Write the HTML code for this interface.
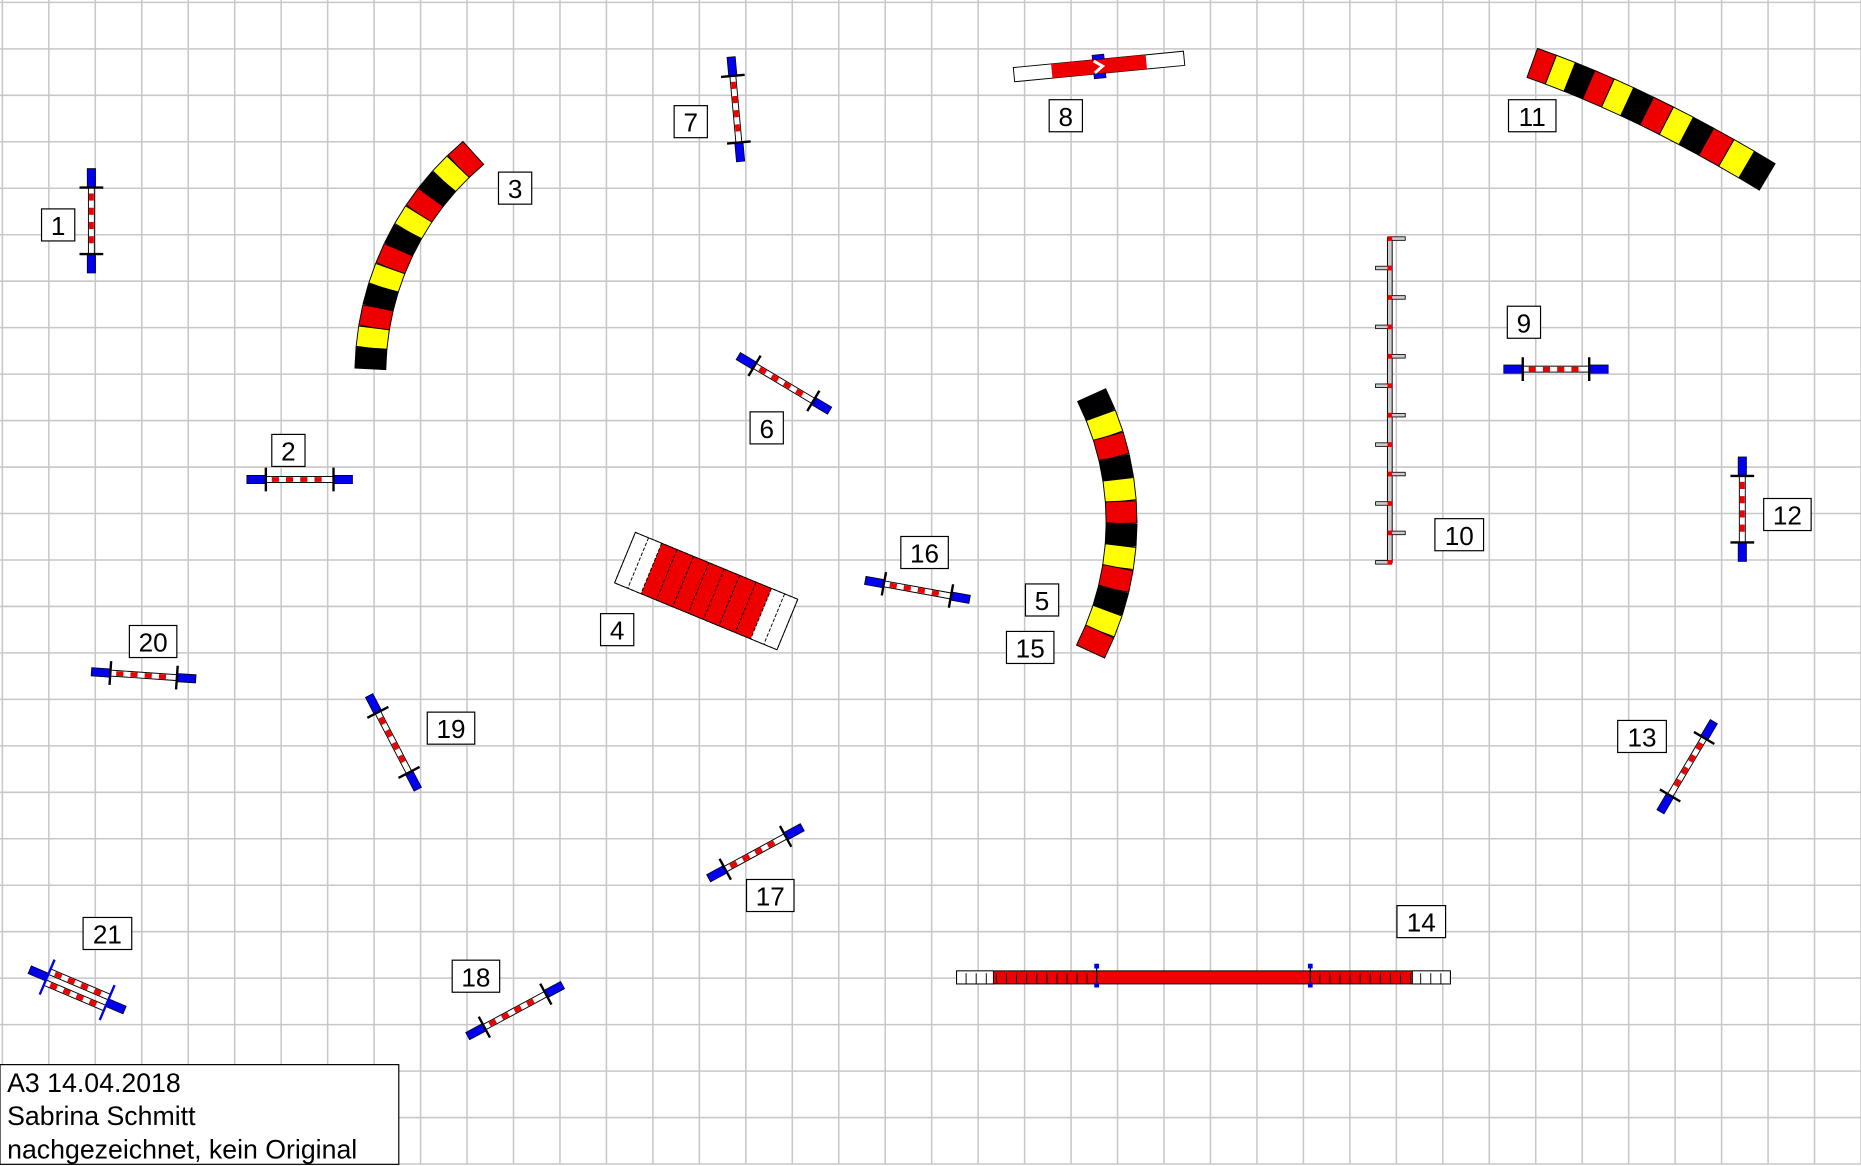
<!DOCTYPE html>
<html><head><meta charset="utf-8"><style>
html,body{margin:0;padding:0;background:#fff}
svg{display:block}
text{font-family:"Liberation Sans",Arial,sans-serif}
</style></head><body>
<svg id="s" xmlns="http://www.w3.org/2000/svg" width="1861" height="1166" viewBox="0 0 1568 982.4">
<rect x="0" y="0" width="1568" height="982.4" fill="#fff"/>
<g id="grid" stroke="#c8c8c8" stroke-width="1.3"></g>
<g id="obj"></g>
<g id="labels" font-size="22" text-anchor="middle">
</g>
<rect x="0" y="897" width="336" height="84" fill="#fff" stroke="#000" stroke-width="1"/>
<text x="6" y="920" font-size="22.5">A3 14.04.2018</text>
<text x="6" y="948" font-size="22.5">Sabrina Schmitt</text>
<text x="6" y="976" font-size="22.5">nachgezeichnet, kein Original</text>
</svg>
<script>
const NS="http://www.w3.org/2000/svg";
function el(p,t,a){const e=document.createElementNS(NS,t);for(const k in a)e.setAttribute(k,a[k]);p.appendChild(e);return e;}
const g=document.getElementById('grid'),o=document.getElementById('obj'),L=document.getElementById('labels');
for(let i=0;i<=40;i++){const x=2+i*39.15;el(g,'line',{x1:x,y1:0,x2:x,y2:981});}
for(let j=0;j<=25;j++){const y=2+j*39.15;el(g,'line',{x1:0,y1:y,x2:1568,y2:y});}
function jump(x1,y1,x2,y2,dbl){
  const dx=x2-x1,dy=y2-y1,len=Math.hypot(dx,dy),a=Math.atan2(dy,dx)*180/Math.PI;
  const gg=el(o,'g',{transform:`translate(${(x1+x2)/2},${(y1+y2)/2}) rotate(${a})`});
  const h=len/2,e=16;
  const bars=dbl?[-5,5]:[0];
  bars.forEach(off=>{
    el(gg,'rect',{x:-h+e,y:off-2.5,width:len-2*e,height:5,fill:'#fff',stroke:'#000','stroke-width':0.8});
    for(let t=-h+e+5;t<h-e-6;t+=12)el(gg,'rect',{x:t,y:off-2,width:6,height:4,fill:'#e00'});
  });
  el(gg,'rect',{x:-h,y:-3.5,width:e,height:7,fill:'#0000ee',stroke:'#000','stroke-width':0.6});
  el(gg,'rect',{x:h-e,y:-3.5,width:e,height:7,fill:'#0000ee',stroke:'#000','stroke-width':0.6});
  const cl=dbl?16:10;
  [-h+e,h-e].forEach(t=>el(gg,'line',{x1:t,y1:-cl,x2:t,y2:cl,stroke:dbl?'#0000ee':'#000','stroke-width':2}));
}
jump(77,142,77,230);
jump(208,404,297,404);
jump(622,300,699,346);
jump(616,48,624,136);
jump(1267,311,1355,311);
jump(1468,385,1468,473);
jump(1444,608,1399,684);
jump(729,489,817,505);
jump(597,740,676,697);
jump(394,873,474,830);
jump(311,586,352,665);
jump(77,566,165,572);
jump(25,817,105,851,true);
// tunnels
const C={r:'#ee0000',y:'#ffff00',b:'#000'};
function tunnelPts(pts,cols,w){
  for(let i=0;i<cols.length;i++){
    const p=pts[i],q=pts[i+1];const dx=q[0]-p[0],dy=q[1]-p[1],l=Math.hypot(dx,dy);
    const nx=-dy/l*w/2,ny=dx/l*w/2;
    el(o,'polygon',{points:`${p[0]+nx},${p[1]+ny} ${q[0]+nx},${q[1]+ny} ${q[0]-nx},${q[1]-ny} ${p[0]-nx},${p[1]-ny}`,fill:C[cols[i]],stroke:'#000','stroke-width':0.8});
  }
}
function arcPts(cx,cy,r,a0,a1,n){const p=[];for(let i=0;i<=n;i++){const a=(a0+(a1-a0)*i/n)*Math.PI/180;p.push([cx+r*Math.cos(a),cy+r*Math.sin(a)]);}return p;}
tunnelPts(arcPts(555,315,243,230,181,12),'ryb'.repeat(4).split(''),26);
tunnelPts(arcPts(705,440,240,-26.5,27,12),'byr'.repeat(4).split(''),26);
(function(){const p=[];const A=[1291,53],B=[1385,86],D=[1489,149];for(let i=0;i<=12;i++){const t=i/12;p.push([(1-t)*(1-t)*A[0]+2*t*(1-t)*B[0]+t*t*D[0],(1-t)*(1-t)*A[1]+2*t*(1-t)*B[1]+t*t*D[1]]);}tunnelPts(p,'ryb'.repeat(4).split(''),26);})();
// table/A-frame 4
(function(){const gg=el(o,'g',{transform:'translate(595,498) rotate(22.4)'});
 el(gg,'rect',{x:-74,y:-23,width:148,height:46,fill:'#fff',stroke:'#000','stroke-width':0.8,'stroke-dasharray':'3 1.5'});
 el(gg,'rect',{x:-50,y:-23,width:100,height:46,fill:'#ee0000'});
 for(let i=0;i<=8;i++){const x=-62+i*15.5;if(i==0||i==8)continue;}
 [-62,-50,-36,-21,-7,7,21,36,50,62].forEach(x=>el(gg,'line',{x1:x,y1:-23,x2:x,y2:23,stroke:'#000','stroke-width':0.8,'stroke-dasharray':'3 1.5'}));
 el(gg,'rect',{x:-74,y:-23,width:148,height:46,fill:'none',stroke:'#000','stroke-width':0.8});
})();
// long jump 8
(function(){const gg=el(o,'g',{transform:'translate(926,56) rotate(-5.5)'});
 el(gg,'rect',{x:-72,y:-6,width:144,height:12,fill:'#fff',stroke:'#000','stroke-width':0.8});
 el(gg,'rect',{x:-40,y:-6,width:80,height:12,fill:'#ee0000'});
 el(gg,'rect',{x:-5,y:-10,width:10,height:4,fill:'#0000ee',stroke:'#000','stroke-width':0.5});
 el(gg,'rect',{x:-5,y:6,width:10,height:4,fill:'#0000ee',stroke:'#000','stroke-width':0.5});
 el(gg,'polyline',{points:'-4,-5 3,0 -4,5',fill:'none',stroke:'#fff','stroke-width':2.5});
})();
// weave 10
(function(){el(o,'rect',{x:1169,y:200,width:4,height:274,fill:'#ccc',stroke:'#000','stroke-width':0.8});
 for(let i=0;i<12;i++){const y=201+i*24.8;const right=i%2==0;
  el(o,'rect',{x:right?1172:1159,y:y-1.5,width:12,height:3,fill:'#ccc',stroke:'#000','stroke-width':0.7});
  el(o,'rect',{x:1169,y:y-2,width:4,height:4,fill:'#ee0000'});}
})();
// dogwalk 14
(function(){el(o,'rect',{x:806,y:818,width:416,height:11,fill:'#ee0000',stroke:'#000','stroke-width':0.8});
 el(o,'rect',{x:806,y:818,width:31,height:11,fill:'#fff',stroke:'#000','stroke-width':0.8});
 el(o,'rect',{x:1190,y:818,width:32,height:11,fill:'#fff',stroke:'#000','stroke-width':0.8});
 for(let x=814;x<924;x+=8.5)el(o,'line',{x1:x,y1:820,x2:x,y2:829,stroke:'#000','stroke-width':0.8});
 for(let x=1112;x<1222;x+=8.5)el(o,'line',{x1:x,y1:820,x2:x,y2:829,stroke:'#000','stroke-width':0.8});
 [924,1104].forEach(x=>{el(o,'line',{x1:x,y1:812,x2:x,y2:832,stroke:'#000','stroke-width':1});el(o,'rect',{x:x-2,y:812,width:4,height:4,fill:'#0000ee'});el(o,'rect',{x:x-2,y:828,width:4,height:4,fill:'#0000ee'});});
})();
// labels
[[1,35,176,28],[2,229,366,28],[3,420,145,28],[4,506,517,28],[5,864,492,28],[6,632,347,28],[7,568,89,28],[8,884,84,28],[9,1270,258,28],[10,1209,437,41],[11,1271,84,40],[12,1486,420,40],[13,1363,607,41],[14,1177,763,41],[15,848,532,40],[16,759,452,40],[17,629,741,40],[18,381,809,40],[19,360,600,40],[20,109,527,40],[21,70,773,41]].forEach(([t,x,y,w])=>{
 el(L,'rect',{x:x,y:y,width:w,height:27,fill:'#fff',stroke:'#000','stroke-width':1});
 const tx=el(L,'text',{x:x+w/2,y:y+22});tx.textContent=t;});
</script>
</body></html>
